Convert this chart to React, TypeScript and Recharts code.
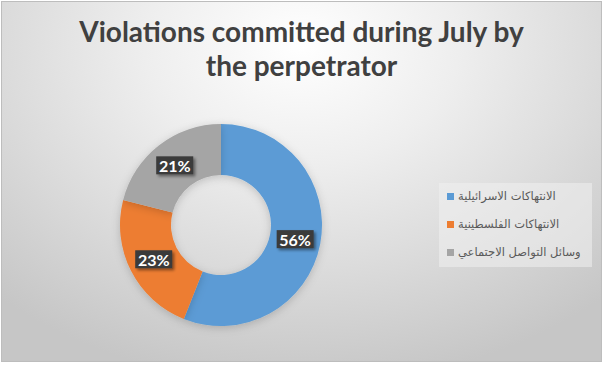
import { PieChart, Pie, Cell } from "recharts";

const categories = ["الانتهاكات الاسرائيلية", "الانتهاكات الفلسطينية", "وسائل التواصل الاجتماعي"];
const shares = [56, 23, 21];
const colors = ["#5B9BD5", "#ED7D31", "#A5A5A5"];

const data = categories.map((name, i) => ({ name, value: shares[i] }));

const RADIAN = Math.PI / 180;

const renderLabel = (props: any) => {
  const { cx, cy, midAngle, innerRadius, outerRadius, percent } = props;
  const r = (innerRadius + outerRadius) / 2;
  const x = cx + r * Math.cos(-midAngle * RADIAN);
  const y = cy + r * Math.sin(-midAngle * RADIAN);
  const text = `${Math.round(percent * 100)}%`;
  return (
    <g>
      <rect x={x - 18.5} y={y - 9} width={37} height={18} fill="#3b3b3b" filter="url(#boxShadow)" />
      <text
        x={x}
        y={y + 0.5}
        fill="#ffffff"
        textAnchor="middle"
        dominantBaseline="central"
        fontFamily="Lato, sans-serif"
        fontWeight={700}
        fontSize={16}
      >
        {text}
      </text>
    </g>
  );
};

const LegendBox = () => (
  <div
    style={{
      position: "absolute",
      left: 439,
      top: 183,
      width: 153,
      height: 84,
      background: "rgba(240,240,240,0.55)",
      boxSizing: "border-box",
      fontFamily: "'DejaVu Sans', sans-serif",
      fontSize: 11.5,
      color: "#595959",
    }}
  >
    {data.map((d, i) => (
      <div key={d.name} style={{ display: "flex", alignItems: "center", height: 28, paddingLeft: 8, marginTop: i === 0 ? -1 : 0 }}>
        <span style={{ width: 7, height: 7, background: colors[i], display: "inline-block", marginRight: 4 }} />
        <span dir="rtl">{d.name}</span>
      </div>
    ))}
  </div>
);

export default function App() {
  return (
    <div style={{ position: "fixed", left: 0, top: 0, width: 603, height: 366, background: "#ffffff" }}>
      <div
        style={{
          position: "absolute",
          left: 1,
          top: 1,
          width: 601,
          height: 361,
          boxSizing: "border-box",
          border: "1px solid #bdbdbd",
          background:
            "radial-gradient(ellipse 75% 95% at 50% 12%, #ffffff 0%, #eeeeee 35%, #dcdcdc 65%, #c6c6c6 100%)",
        }}
      />
      <div
        style={{
          position: "absolute",
          left: 0,
          top: 14,
          width: 603,
          textAlign: "center",
          fontFamily: "Lato, sans-serif",
          fontWeight: 700,
          fontSize: 28,
          lineHeight: "34px",
          color: "#404040",
        }}
      >
        Violations committed during July by
        <br />
        the perpetrator
      </div>
      <div style={{ position: "absolute", left: 0, top: 0 }}>
        <PieChart width={603} height={366} margin={{ top: 0, right: 0, bottom: 0, left: 0 }}>
          <defs>
            <filter id="boxShadow" x="-30%" y="-30%" width="160%" height="160%">
              <feDropShadow dx={2} dy={2} stdDeviation={1.5} floodColor="#000" floodOpacity={0.45} />
            </filter>
            <filter id="ringShadow" x="-20%" y="-20%" width="140%" height="140%">
              <feDropShadow dx={0} dy={2} stdDeviation={4} floodColor="#000" floodOpacity={0.18} />
            </filter>
          </defs>
          <Pie
            data={data}
            dataKey="value"
            nameKey="name"
            cx={221}
            cy={225}
            innerRadius={50}
            outerRadius={101}
            startAngle={90}
            endAngle={-270}
            stroke="none"
            label={renderLabel}
            labelLine={false}
            isAnimationActive={false}
          >
            {data.map((d, i) => (
              <Cell key={d.name} fill={colors[i]} filter="url(#ringShadow)" />
            ))}
          </Pie>
        </PieChart>
      </div>
      <LegendBox />
    </div>
  );
}
